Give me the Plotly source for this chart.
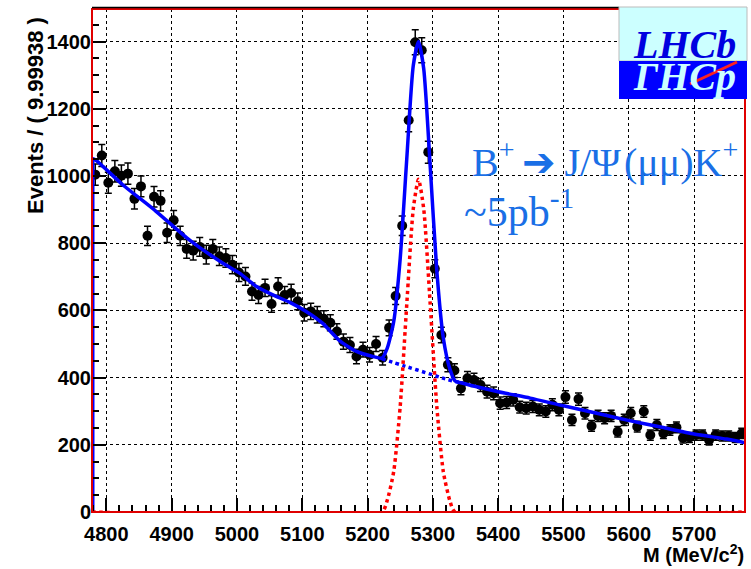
import numpy as np
import plotly.graph_objects as go

# ---------------- data ----------------
bin_lo, bin_hi, bin_w = 4778, 5778, 10
mass_center = np.arange(bin_lo + bin_w / 2, bin_hi, bin_w)  # 100 bins
events = [
    1004, 1061, 980, 1014, 1001, 1007, 932, 969, 822, 938,
    926, 831, 868, 822, 783, 778, 789, 766, 783, 761,
    756, 736, 713, 701, 656, 646, 667, 619, 671, 646,
    652, 627, 593, 597, 587, 575, 563, 537, 507, 497,
    463, 483, 468, 500, 459, 548, 643, 852, 1166, 1398,
    1374, 1071, 724, 527, 438, 421, 368, 398, 393, 378,
    358, 353, 324, 326, 334, 312, 309, 314, 304, 299,
    319, 304, 342, 274, 336, 294, 256, 286, 279, 286,
    239, 274, 294, 254, 299, 229, 259, 234, 244, 252,
    220, 222, 229, 229, 214, 229, 226, 226, 222, 234,
]
events_err = np.sqrt(events)

# fit curves
total_m = [4778, 4784, 4825, 4876, 4927, 4978, 5004, 5030, 5055, 5081, 5106, 5131,
           5157, 5183, 5208, 5222, 5230, 5240, 5250, 5260, 5270, 5278, 5286, 5296,
           5306, 5316, 5326, 5334, 5346, 5400, 5449, 5500, 5551, 5601, 5651, 5700,
           5750, 5778]
total_y = [1052, 1047, 974, 895, 810, 741, 711, 671, 646, 624, 597, 562,
           510, 478, 463, 458, 487, 566, 755, 1050, 1329, 1400, 1319, 1027,
           719, 518, 426, 390, 383, 358, 339, 316, 294, 272, 252, 232,
           217, 206]
edge_m = [4778, 4778]
edge_y = [0, 1052]

bkg_m = [5222, 5259, 5300, 5321, 5340]
bkg_y = [456, 433, 408, 395, 386]

sig_m = [4778, 5222, 5230, 5240, 5250, 5260, 5270, 5278, 5286, 5296, 5306, 5316, 5326, 5334, 5778]
sig_y = [0, 0, 34, 120, 315, 617, 902, 990, 902, 617, 315, 120, 34, 0, 0]

x_range = [4778, 5778]
y_range = [0, 1497]

# ---------------- layout helpers ----------------
W, H = 751, 569
L, R, T, B = 92, 6, 9, 57
pw, ph = W - L - R, H - T - B


def px2x(px):
    return (px - L) / pw


def py2y(py):
    return (H - B - py) / ph


fig = go.Figure()

fig.add_trace(go.Scatter(
    x=mass_center, y=events, mode="markers",
    marker=dict(color="black", size=10),
    error_y=dict(type="data", array=events_err, color="black", thickness=1.5, width=3.5),
    showlegend=False, hoverinfo="skip"))

fig.add_trace(go.Scatter(x=edge_m, y=edge_y, mode="lines",
                         line=dict(color="#0000ff", width=5), showlegend=False))
fig.add_trace(go.Scatter(x=total_m, y=total_y, mode="lines",
                         line=dict(color="#0000ff", width=3.5, shape="spline", smoothing=0.6),
                         showlegend=False))
fig.add_trace(go.Scatter(x=bkg_m, y=bkg_y, mode="lines",
                         line=dict(color="#0000ff", width=3.5, dash="dot", shape="spline"),
                         showlegend=False))
fig.add_trace(go.Scatter(x=sig_m, y=sig_y, mode="lines",
                         line=dict(color="#ff0000", width=3.5, dash="dot", shape="spline", smoothing=0.6),
                         showlegend=False))

tickfont = dict(family="Liberation Sans, Arial, sans-serif", size=20, color="black", weight="bold")

fig.update_xaxes(range=x_range, tick0=4800, dtick=100, ticks="inside", ticklen=14, tickwidth=1.5,
                 tickcolor="black", showline=True, linecolor="black", linewidth=1,
                 showgrid=True, gridcolor="black", griddash="dot", gridwidth=1,
                 tickfont=tickfont, zeroline=False, ticklabelstandoff=4,
                 minor=dict(dtick=20, tick0=4800, ticks="inside", ticklen=7, tickcolor="black",
                            tickwidth=1.5, showgrid=False))
fig.update_yaxes(range=y_range, tick0=0, dtick=200, ticks="inside", ticklen=14, tickwidth=1.5,
                 tickcolor="black", showline=False,
                 showgrid=True, gridcolor="black", griddash="dot", gridwidth=1,
                 tickfont=tickfont, zeroline=False,
                 minor=dict(dtick=50, tick0=0, ticks="inside", ticklen=7, tickcolor="black",
                            tickwidth=1.5, showgrid=False))

shapes = [
    dict(type="rect", xref="paper", yref="paper", x0=0, x1=1, y0=0, y1=1,
         line=dict(color="#e00000", width=2), layer="above"),
    dict(type="line", xref="paper", yref="paper", x0=0, x1=px2x(619), y0=py2y(7.5), y1=py2y(7.5),
         line=dict(color="black", width=1.5)),
    # LHCb logo
    dict(type="rect", xref="paper", yref="paper", x0=px2x(619), x1=px2x(747), y0=py2y(61), y1=py2y(7),
         fillcolor="#ccffff", line=dict(color="#bbbbbb", width=1), layer="above"),
    dict(type="rect", xref="paper", yref="paper", x0=px2x(619), x1=px2x(747), y0=py2y(99), y1=py2y(61),
         fillcolor="#0000ff", line=dict(width=0), layer="above"),
]

annotations = [
    dict(text="Events / ( 9.99938 )", xref="paper", yref="paper", x=px2x(35), y=py2y(116),
         textangle=-90, showarrow=False, xanchor="center", yanchor="middle",
         font=dict(family="Liberation Sans, Arial, sans-serif", size=22, color="black", weight="bold")),
    dict(text="M (MeV/c<sup>2</sup>)", xref="paper", yref="paper", x=px2x(746), y=py2y(553),
         showarrow=False, xanchor="right", yanchor="middle",
         font=dict(family="Liberation Sans, Arial, sans-serif", size=20, color="black", weight="bold")),
    dict(text="B<sup>+</sup>\u2009➔\u2009J/Ψ\u200a(μμ)K<sup>+</sup>", xref="paper", yref="paper",
         x=px2x(470), y=py2y(159),
         showarrow=False, xanchor="left", yanchor="middle",
         font=dict(family="Liberation Serif, Times New Roman, serif", size=40, color="#1a6fe6")),
    dict(text="~5pb<sup>-1</sup>", xref="paper", yref="paper", x=px2x(462), y=py2y(209),
         showarrow=False, xanchor="left", yanchor="middle",
         font=dict(family="Liberation Serif, Times New Roman, serif", size=42, color="#1a6fe6")),
    dict(text="<i><b>LHCb</b></i>", xref="paper", yref="paper", x=px2x(684), y=py2y(44),
         showarrow=False, xanchor="center", yanchor="middle",
         font=dict(family="Liberation Serif, Times New Roman, serif", size=40, color="#0000e0")),
    dict(text="<i><b>ΓHCp</b></i>", xref="paper", yref="paper", x=px2x(684), y=py2y(77),
         showarrow=False, xanchor="center", yanchor="middle",
         font=dict(family="Liberation Serif, Times New Roman, serif", size=40, color="#ccffff")),
]

shapes.append(dict(type="line", xref="paper", yref="paper", x0=px2x(690), y0=py2y(84),
                   x1=px2x(737), y1=py2y(62), line=dict(color="#ff2020", width=3), layer="above"))

fig.update_layout(width=W, height=H, margin=dict(l=L, r=R, t=T, b=B),
                  paper_bgcolor="white", plot_bgcolor="white",
                  shapes=shapes, annotations=annotations, showlegend=False)

fig.write_html("out.html")
